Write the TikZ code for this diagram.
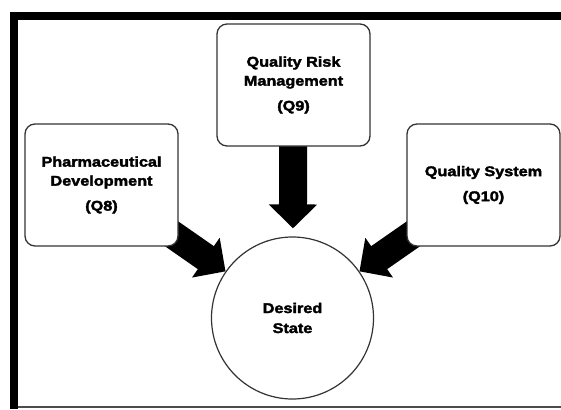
\documentclass[tikz,border=0pt]{standalone}
\usepackage{fontspec}
\setmainfont{Liberation Sans}
\newfontfamily\heavy{Liberation Sans}[FakeStretch=1.16, FakeBold=2.5]
\usetikzlibrary{arrows.meta, backgrounds}
\begin{document}
\begin{tikzpicture}[x=1pt,y=-1pt,
  box/.style={draw=black!80, line width=1.3pt, rounded corners=10pt, fill=white,
    minimum width=153pt, minimum height=122pt, align=center, inner sep=0pt,
    font=\heavy\bfseries\fontsize{14}{19}\selectfont},
  goal/.style={circle, draw=black!80, line width=1.2pt, fill=white,
    minimum size=162pt, align=center, inner sep=0pt,
    font=\heavy\bfseries\fontsize{14}{20}\selectfont},
  big/.style={line width=28pt, -{Triangle[length=24pt, width=47pt]}}]
\useasboundingbox (0,0) rectangle (561,409);
% frame
\fill[black] (10,12) rectangle (561,20);
\fill[black] (10,12) rectangle (18,409);
\draw[black!70, line width=1.5pt] (18,407) -- (561,407);
% nodes
\node[box] (qrm) at (293.5,85) {Quality Risk\\Management\\[6pt](Q9)};
\node[box] (pd) at (101.5,185) {Pharmaceutical\\Development\\[6pt](Q8)};
\node[box] (qs) at (483.5,185) {Quality System\\[6pt](Q10)};
\node[goal] (ds) at (292.5,318) {Desired\\State};
% arrows
\begin{scope}[on background layer]
\draw[big] (pd.center) -- (ds);
\draw[big] (qs.center) -- (ds);
\draw[big, shorten >=8pt] (qrm.center) -- (ds);
\end{scope}
\end{tikzpicture}
\end{document}
